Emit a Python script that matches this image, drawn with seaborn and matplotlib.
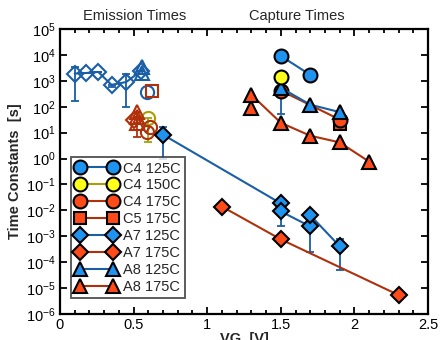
import matplotlib
matplotlib.use("Agg")
import matplotlib.pyplot as plt
import seaborn as sns
import numpy as np
import pandas as pd
from matplotlib.lines import Line2D
from matplotlib.ticker import MultipleLocator, LogLocator, NullLocator

sns.set_style("ticks")
plt.rcParams['font.family'] = ['Liberation Sans', 'DejaVu Sans']
plt.rcParams['mathtext.fontset'] = 'custom'
plt.rcParams['mathtext.rm'] = 'Liberation Sans'

# ---------------- data ----------------
# emission times (open markers)
em_a7_125_x = [0.10, 0.175, 0.26, 0.35, 0.45, 0.55]
em_a7_125_y = [1900, 2000, 2200, 700, 900, 2400]
em_a7_125_lo = [170, 2000, 2200, 560, 100, 2400]
em_a7_125_hi = [3300, 2000, 2200, 700, 1800, 2400]
em_a8_125_x = [0.555, 0.56]
em_a8_125_y = [3300, 2000]
em_c4_125_x = [0.59]
em_c4_125_y = [380]
em_c5_175_x = [0.625]
em_c5_175_y = [420]
em_c4_150_x = [0.60]
em_c4_150_y = [38]
em_c4_150_lo = [4.5]
em_c4_175_x = [0.61, 0.59]
em_c4_175_y = [17, 11]
em_a8_175_x = [0.52, 0.52, 0.52]
em_a8_175_y = [65, 40, 24]
em_a8_175_lo = [65, 40, 7]
em_a7_175_x = [0.50]
em_a7_175_y = [30]

# capture times (filled markers)
c4_125_x = [1.5, 1.7]
c4_125_y = [9100, 1700]
c4_150_x = [1.5]
c4_150_y = [1400]
c4_175_x = [1.5, 1.9]
c4_175_y = [420, 32]
c5_175_x = [1.9]
c5_175_y = [21]
a7_125_x = [0.7, 1.5, 1.5, 1.7, 1.7, 1.9]
a7_125_y = [8.3, 0.0186, 0.0091, 0.0024, 0.0065, 0.00041]
a7_125_lo = [1.0, 0.0186, 0.0024, 0.00025, 0.0065, 0.00005]
a7_125_hi = [17, 0.0186, 0.0091, 0.0024, 0.0065, 0.00076]
a7_175_x = [1.1, 1.5, 2.3]
a7_175_y = [0.014, 0.00076, 5.4e-6]
a8_125_x = [1.5, 1.7, 1.9]
a8_125_y = [540, 120, 62]
a8_125_lo = [54, 100, 62]
a8_175_x = [1.3, 1.3, 1.5, 1.7, 1.9, 2.1]
a8_175_y = [92, 290, 24, 7.6, 4.2, 0.76]

labels = ["C4 125C", "C4 150C", "C4 175C", "C5 175C", "A7 125C", "A7 175C", "A8 125C", "A8 175C"]

# ---------------- style ----------------
BLUE_F = "#1f93f0"
BLUE_L = "#1a5ea6"
RED_F = "#ff4a1a"
RED_L = "#b0300c"
YEL_F = "#ffff1a"
YEL_L = "#a8a000"

fig = plt.figure(figsize=(4.42, 3.40), dpi=100)
ax = fig.add_axes([60/442, 1-314/340, 368/442, 285/340])
ax.set_yscale('log')


def series(x, y, marker, ms, fc, ec, lc, lw=1.5, mew=1.5, z=3, line=True):
    df = pd.DataFrame({"x": x, "y": y})
    sns.lineplot(data=df, x="x", y="y", sort=False, estimator=None, ax=ax,
                 color=lc, lw=lw if line else 0, marker=marker, markersize=ms,
                 markerfacecolor=fc, markeredgecolor=ec, markeredgewidth=mew,
                 zorder=z, legend=False)


def ebar(x, y, lo, hi, color, z=2):
    y = np.array(y, float)
    lo = np.array(lo, float)
    hi = np.array(hi, float)
    ax.errorbar(x, y, yerr=[y - lo, hi - y], fmt='none', ecolor=color,
                elinewidth=1.3, capsize=3, capthick=1.3, zorder=z)

# emission (open)
ebar(em_a7_125_x, em_a7_125_y, em_a7_125_lo, em_a7_125_hi, BLUE_L)
series(em_a7_125_x, em_a7_125_y, 'D', 8, 'none', BLUE_L, BLUE_L)
series(em_a8_125_x, em_a8_125_y, '^', 9.5, 'none', BLUE_L, BLUE_L)
series(em_c4_125_x, em_c4_125_y, 'o', 9.5, 'none', BLUE_L, BLUE_L)
series(em_c5_175_x, em_c5_175_y, 's', 8.5, 'none', RED_L, RED_L)
ebar(em_c4_150_x, em_c4_150_y, em_c4_150_lo, em_c4_150_y, YEL_L)
series(em_c4_150_x, em_c4_150_y, 'o', 9.5, 'none', YEL_L, YEL_L)
series(em_a7_175_x, em_a7_175_y, 'D', 8, 'none', RED_L, RED_L)
ebar(em_a8_175_x, em_a8_175_y, em_a8_175_lo, em_a8_175_y, RED_L)
series(em_a8_175_x, em_a8_175_y, '^', 9.5, 'none', RED_L, RED_L)
series(em_c4_175_x, em_c4_175_y, 'o', 9.5, 'none', RED_L, RED_L)

# capture (filled)
ebar(a7_125_x, a7_125_y, a7_125_lo, a7_125_hi, BLUE_L)
ebar(a8_125_x, a8_125_y, a8_125_lo, a8_125_y, BLUE_L)
series(a7_175_x, a7_175_y, 'D', 8.5, RED_F, 'black', RED_L, z=4)
series(a7_125_x, a7_125_y, 'D', 8.5, BLUE_F, 'black', BLUE_L, z=4)
series(a8_175_x, a8_175_y, '^', 10, RED_F, 'black', RED_L, z=4)
series(c5_175_x, c5_175_y, 's', 9, RED_F, 'black', RED_L, z=4)
series(c4_175_x, c4_175_y, 'o', 10, RED_F, 'black', RED_L, z=4)
series(a8_125_x, a8_125_y, '^', 10, BLUE_F, 'black', BLUE_L, z=5)
series(c4_150_x, c4_150_y, 'o', 10, YEL_F, 'black', YEL_L, z=5)
series(c4_125_x, c4_125_y, 'o', 10, BLUE_F, 'black', BLUE_L, z=5)

# ---------------- axes ----------------
ax.set_xlim(0, 2.5)
ax.set_ylim(1e-6, 1e5)
ax.xaxis.set_minor_locator(MultipleLocator(0.1))
ax.yaxis.set_major_locator(LogLocator(base=10, numticks=20))
ax.yaxis.set_minor_locator(NullLocator())
ax.set_xticks([0, 0.5, 1, 1.5, 2, 2.5])
ax.set_xticklabels(["0", "0.5", "1", "1.5", "2", "2.5"])
ax.tick_params(which='both', direction='in', top=True, right=True,
               width=1.3, labelsize=10.5, colors='black')
ax.tick_params(which='major', length=5, pad=3)
ax.tick_params(which='minor', length=3)
for s in ax.spines.values():
    s.set_linewidth(1.6)
    s.set_color('black')

ax.set_xlabel("VG  [V]", fontsize=10.5, fontweight='bold', labelpad=0)
ax.set_ylabel("Time Constants  [s]", fontsize=10.5, fontweight='bold', labelpad=3)

fig.text(135/442, 1-16/340, "Emission Times", ha='center', va='center', fontsize=10.5)
fig.text(297/442, 1-16/340, "Capture Times", ha='center', va='center', fontsize=10.5)

# ---------------- legend ----------------
spec = [('o', BLUE_F, BLUE_L), ('o', YEL_F, YEL_L), ('o', RED_F, RED_L), ('s', RED_F, RED_L),
        ('D', BLUE_F, BLUE_L), ('D', RED_F, RED_L), ('^', BLUE_F, BLUE_L), ('^', RED_F, RED_L)]
handles = []
for (m, fc, lc) in spec:
    handles.append(Line2D([], [], color=lc, lw=1.5, marker=m,
                          markersize={'o': 10, 's': 9, 'D': 8.5, '^': 10}[m],
                          markerfacecolor=fc, markeredgecolor='black', markeredgewidth=1.5))
leg = ax.legend(handles, labels, loc='lower left', bbox_to_anchor=(0.03, 0.055),
                numpoints=2, handlelength=2.9, handletextpad=0.35, labelspacing=0.2,
                borderpad=0.3, borderaxespad=0, fontsize=10.5, frameon=True,
                fancybox=False, edgecolor='#333333')
leg.get_frame().set_linewidth(1.4)
leg.set_zorder(10)

fig.savefig("out.png", dpi=100)
